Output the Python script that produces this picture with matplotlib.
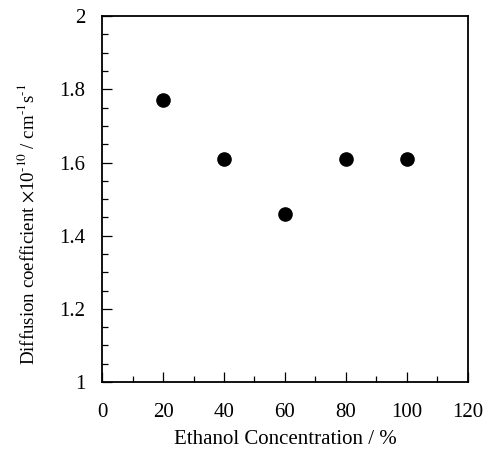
import numpy as np
import matplotlib
matplotlib.use('Agg')
import matplotlib.pyplot as plt
from matplotlib.ticker import MultipleLocator

plt.rcParams['font.family'] = ['Liberation Serif', 'DejaVu Serif']
plt.rcParams['mathtext.fontset'] = 'stix'

# datos
etanol = [20, 40, 60, 80, 100]
difusion = [1.77, 1.61, 1.46, 1.61, 1.61]

fig = plt.figure(figsize=(4.93, 4.5), dpi=100)
ax = fig.add_axes([0.207, 0.151, 0.742, 0.813])

ax.plot(etanol, difusion, 'o', color='black', markersize=9.5)

ax.set_xlim(0, 120)
ax.set_ylim(1, 2)
ax.xaxis.set_major_locator(MultipleLocator(20))
ax.xaxis.set_minor_locator(MultipleLocator(10))
ax.yaxis.set_minor_locator(MultipleLocator(0.05))
ax.set_yticks([1, 1.2, 1.4, 1.6, 1.8, 2])
ax.set_yticklabels(['1', '1.2', '1.4', '1.6', '1.8', '2'])

ax.tick_params(which='both', direction='in', top=False, right=False, labelsize=15)
ax.tick_params(which='major', length=7, width=0.9)
ax.tick_params(which='minor', length=4, width=0.9)
ax.tick_params(axis='x', pad=15)
ax.tick_params(axis='y', pad=12)

for s in ax.spines.values():
    s.set_linewidth(1.3)

ax.set_xlabel('Ethanol Concentration / %', fontsize=15, labelpad=6)
ax.set_ylabel(r'Diffusion coefficient $\times$10$^{\text{-10}}$ / cm$^{\text{-1}}$s$^{\text{-1}}$',
              fontsize=13.6, va='center')
ax.yaxis.set_label_coords(-0.205, 0.432)

plt.savefig('out.png', dpi=100)
